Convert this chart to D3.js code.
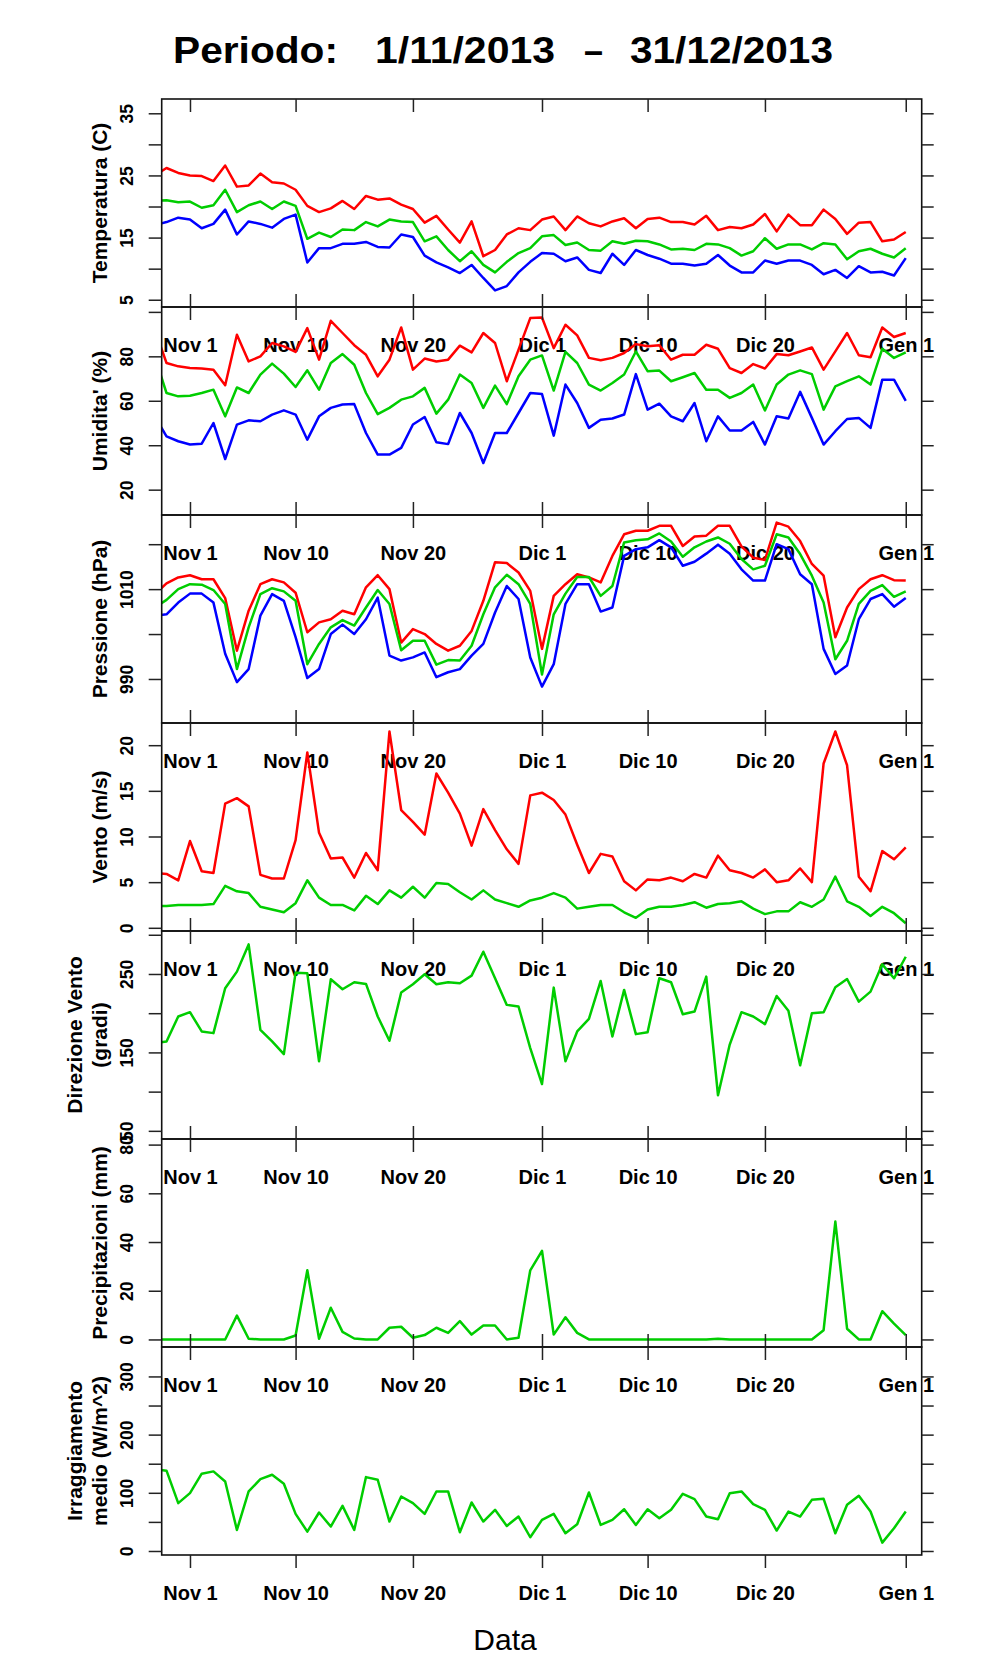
<!DOCTYPE html>
<html>
<head>
<meta charset="utf-8">
<script src="https://cdn.jsdelivr.net/npm/d3@7"></script>
<style>
  body { margin: 0; background: #fff; }
  svg text { font-family: "Liberation Sans", Arial, Helvetica, sans-serif; }
</style>
</head>
<body>
<svg id="chart" width="996" height="1680"></svg>
<script>
// Daily weather summary, seven stacked panels sharing one time axis

// One value per day, 29/10/2013 .. 1/1/2014 (65 days)
const days = d3.utcDay.range(new Date(Date.UTC(2013, 9, 29)), new Date(Date.UTC(2014, 0, 2)));

const tempMax = [25.0, 26.2, 25.4, 25.0, 24.9, 24.1, 26.6, 23.2, 23.4, 25.3, 23.9, 23.7, 22.7,
  20.1, 19.1, 19.7, 20.9, 19.6, 21.7, 21.1, 21.3, 20.3, 19.6,
  17.4, 18.5, 16.3, 14.2, 17.6, 12.0, 13.0, 15.5, 16.5, 16.2,
  17.9, 18.4, 16.2, 18.4, 17.3, 16.8, 17.6, 18.1, 16.5, 18.0,
  18.2, 17.5, 17.5, 17.1, 18.5, 16.2, 16.7, 16.5, 17.1, 18.8,
  16.0, 18.7, 17.0, 17.0, 19.5, 18.0, 15.6, 17.4, 17.5, 14.4, 14.7, 15.9];
const tempMean = [20.9, 21.0, 20.7, 20.8, 19.8, 20.2, 22.7, 19.1, 20.2, 20.8, 19.6, 20.8, 20.1,
  14.8, 15.8, 15.1, 16.3, 16.2, 17.5, 16.8, 17.9, 17.6, 17.5,
  14.4, 15.2, 13.0, 11.2, 12.8, 10.6, 9.4, 11.1, 12.5, 13.3,
  15.2, 15.4, 13.8, 14.2, 13.0, 12.9, 14.4, 14.0, 14.5, 14.4,
  13.9, 13.1, 13.2, 13.0, 14.0, 13.9, 13.3, 12.1, 12.8, 14.9,
  13.2, 13.9, 13.9, 13.1, 14.1, 13.9, 11.5, 12.8, 13.2, 12.4, 11.8, 13.3];
const tempMin = [17.0, 17.5, 18.2, 17.9, 16.5, 17.2, 19.5, 15.5, 17.6, 17.2, 16.6, 18.0, 18.7,
  11.0, 13.3, 13.3, 14.0, 14.0, 14.3, 13.5, 13.4, 15.5, 15.1,
  12.1, 11.0, 10.2, 9.3, 10.6, 8.5, 6.5, 7.2, 9.4, 11.1,
  12.5, 12.4, 11.2, 11.8, 9.8, 9.3, 12.4, 10.6, 13.0, 12.2,
  11.6, 10.8, 10.8, 10.5, 10.8, 12.2, 10.5, 9.4, 9.4, 11.3,
  10.8, 11.3, 11.3, 10.6, 9.1, 9.8, 8.5, 10.4, 9.4, 9.5, 8.9, 11.7];

const humMax = [92, 77, 75.5, 74.8, 74.5, 74, 67, 89.7, 77.7, 80, 86, 84.5, 82,
  92.7, 78.5, 96, 90.5, 85, 80.7, 71, 78.5, 93, 74,
  79, 77.7, 78.5, 84.8, 81.8, 90.5, 86, 68.8, 83, 97.2,
  97.5, 83.7, 94.2, 89.4, 79.3, 78.2, 79.3, 81.5, 85.5, 84.5,
  85, 78.5, 80.7, 80.7, 85.2, 83.4, 74.7, 72.5, 76.5, 74.5,
  81, 80.5, 82.2, 84, 74, 82.2, 90.5, 80.5, 79.6, 93, 88.7, 90.5];
const humMean = [80, 63.5, 62, 62.3, 63.5, 65, 53, 66, 63.5, 71.8, 76.7, 72.2, 66.2,
  73.7, 65, 77, 81, 76.2, 63.5, 54, 56.8, 60.5, 62,
  65.8, 54.2, 60.5, 71.8, 68, 56.8, 66.8, 58.5, 71, 78.5,
  80.4, 64.6, 82, 77, 67.3, 64.6, 68, 71.8, 82.2, 73.3,
  73.6, 68.8, 70.6, 72.5, 65, 65, 61.3, 63.5, 67.3, 55.6,
  67.3, 71.8, 73.7, 72, 56, 66.5, 68.8, 71, 67.3, 83.4, 79.3, 81.8];
const humMin = [53, 44, 41.8, 40.3, 40.7, 50, 33.8, 49.3, 51.2, 50.8, 53.8, 55.7, 53.8,
  42.5, 53, 56.8, 58.3, 58.5, 45.5, 35.8, 35.8, 38.8, 49.3,
  52.7, 41.3, 40.5, 54.5, 45.5, 32, 45.5, 45.5, 54.5, 63.5,
  63, 44.3, 67.3, 59, 47.8, 51.5, 52, 53.8, 72, 56,
  58.7, 53, 50.8, 59, 41.8, 53, 46.6, 46.6, 50.5, 40.3,
  53, 52, 64, 52.3, 40.3, 46.3, 51.8, 52.3, 47.8, 69.5, 69.5, 60];

const presMax = [1008.8, 1011.3, 1012.6, 1013.1, 1012.2, 1012.2, 1008, 996.3, 1005.2, 1011.1, 1012.2, 1011.5, 1009.2,
  1000.4, 1002.6, 1003.3, 1005.2, 1004.4, 1010.4, 1013.1, 1010, 998.1, 1001.1,
  1000.0, 997.8, 996.3, 997.4, 1000.7, 1007.4, 1016, 1015.8, 1013.7, 1009.6,
  996.7, 1008.5, 1011.1, 1013.3, 1012.6, 1011.5, 1017.4, 1022.2, 1023.0, 1023.0,
  1024.1, 1024.1, 1019.6, 1021.7, 1021.9, 1024.1, 1024.1, 1019.5, 1017, 1016.5,
  1024.8, 1023.9, 1020.7, 1015.6, 1013, 999.3, 1005.9, 1010, 1012.2, 1013.1, 1012, 1011.9];
const presMean = [1005.9, 1007.6, 1010, 1011.1, 1011, 1009.8, 1006.7, 992.2, 1001.5, 1008.9, 1010.2, 1009.5, 1007.4,
  993.3, 997.8, 1001.5, 1003.1, 1001.9, 1005.9, 1009.8, 1006.7, 996.4, 998.5,
  998.5, 993.2, 994.2, 994.1, 997.4, 1004.4, 1010.4, 1013.2, 1011.1, 1006.7,
  991, 1004.4, 1009, 1012.7, 1012.7, 1008.5, 1010.7, 1020.4, 1020.9, 1021.1,
  1022.4, 1020.6, 1017.2, 1019.3, 1020.6, 1021.5, 1020.1, 1016.7, 1014.4, 1015.2,
  1022.2, 1021.5, 1017.8, 1013, 1007, 994.4, 998.5, 1006.7, 1009.6, 1010.9, 1008.3, 1009.5];
const presMin = [1004.1, 1004.4, 1007, 1009, 1009, 1007, 995.6, 989.3, 992.2, 1004.1, 1008.9, 1007.4, 999.3,
  990.2, 992.2, 1000, 1002.1, 1000, 1003.3, 1008.1, 995.2, 994.1, 994.8,
  995.9, 990.4, 991.5, 992.2, 995.2, 997.8, 1004.8, 1010.7, 1007.8, 994.8,
  988.3, 993.3, 1006.7, 1011.1, 1011.1, 1005, 1005.9, 1017.4, 1018.9, 1019.3,
  1020.9, 1019.3, 1015.2, 1016.1, 1017.9, 1019.9, 1017.9, 1014.4, 1011.9, 1011.9,
  1020, 1018.9, 1013.3, 1011.1, 996.7, 991.1, 993, 1003.3, 1007.8, 1008.9, 1006.1, 1008];

const windMax = [6.0, 5.9, 5.2, 9.5, 6.2, 6.0, 13.6, 14.2, 13.3, 5.8, 5.4, 5.4, 9.6,
  19.2, 10.4, 7.6, 7.7, 5.5, 8.2, 6.3, 21.5, 12.9, 11.6,
  10.2, 16.9, 14.8, 12.5, 9.0, 13.0, 10.7, 8.6, 7.0, 14.5,
  14.8, 14.0, 12.4, 9.1, 6.0, 8.1, 7.8, 5.1, 4.1, 5.3,
  5.2, 5.5, 5.1, 5.9, 5.5, 7.9, 6.3, 6.0, 5.5, 6.4,
  5.0, 5.2, 6.5, 5.0, 18.0, 21.5, 17.8, 5.6, 4.0, 8.4, 7.5, 8.8];
const windMean = [2.4, 2.4, 2.5, 2.5, 2.5, 2.6, 4.6, 4.0, 3.8, 2.3, 2.0, 1.7, 2.7,
  5.2, 3.3, 2.5, 2.5, 1.9, 3.5, 2.6, 4.1, 3.3, 4.5,
  3.3, 4.9, 4.8, 3.9, 3.1, 4.1, 3.1, 2.7, 2.3, 3.0,
  3.3, 3.8, 3.3, 2.1, 2.3, 2.5, 2.5, 1.7, 1.1, 2.0,
  2.3, 2.3, 2.5, 2.8, 2.2, 2.6, 2.7, 2.9, 2.1, 1.5,
  1.8, 1.8, 2.8, 2.3, 3.1, 5.6, 2.9, 2.3, 1.3, 2.3, 1.6, 0.5];

const windDir = [162, 164, 195.8, 201.3, 176.7, 174.6, 231.8, 253, 287.7, 178.8, 164, 147.9, 251.7,
  250.8, 138.6, 243.2, 230.5, 239.4, 237.3, 195.8, 164.8, 226.3, 236.9,
  249.6, 236.9, 239.4, 238.1, 247.9, 278.4, 244.5, 210.6, 208.5, 155.5,
  109.7, 232.6, 138.6, 176.7, 192.8, 241.1, 170.3, 229.7, 173.3, 175.8,
  244.5, 239.4, 198.7, 202.1, 246.6, 95.3, 160, 201.3, 195.8, 186,
  222, 203, 133.5, 200, 201.3, 233, 243.6, 214.8, 227.5, 262.3, 244.5, 272];

const rain = [0, 0, 0, 0, 0, 0, 0, 9.8, 0.3, 0, 0, 0, 1.6,
  28.4, 0.3, 13.0, 3.1, 0.4, 0, 0, 4.8, 5.2, 0.7,
  1.8, 4.8, 2.7, 7.5, 2.0, 5.7, 5.7, 0, 0.7, 28.4,
  36.4, 2.0, 9.1, 2.7, 0, 0, 0, 0, 0, 0,
  0, 0, 0, 0, 0, 0.3, 0, 0, 0, 0,
  0, 0, 0, 0, 3.8, 48.4, 4.4, 0, 0, 11.6, 6.5, 1.8];

const radiation = [140.8, 138, 82.2, 99.4, 132.8, 136.8, 119.5, 36.2, 102.3, 123.6, 131, 115.5, 63.8,
  33.3, 66.1, 42, 77.6, 36.2, 127, 122.4, 50.6, 93.7, 82.2,
  63.8, 102.3, 102.3, 32.2, 83.3, 50.6, 70.7, 43.1, 59.2, 23.6,
  53.4, 63.8, 30.5, 46, 100.6, 44.8, 53.4, 71.8, 44.8, 71.8,
  56.3, 70.7, 98.3, 89.1, 59.2, 54.6, 99.4, 102.3, 80.5, 70.7,
  35.1, 67.8, 59.2, 87.9, 89.7, 30.5, 79.3, 94.8, 67.8, 14.4, 39.1, 67.8];

// Axis ticks and labels
const xTickDates = ["2013-11-01", "2013-11-10", "2013-11-20", "2013-12-01", "2013-12-10", "2013-12-20", "2014-01-01"];
const xTickLabels = ["Nov 1", "Nov 10", "Nov 20", "Dic 1", "Dic 10", "Dic 20", "Gen 1"];

const tempTicks = [5, 10, 15, 20, 25, 30, 35], tempLabels = [5, 15, 25, 35];
const humTicks = [20, 40, 60, 80, 100], humLabels = [20, 40, 60, 80];
const presTicks = [990, 1000, 1010, 1020], presLabels = [990, 1010];
const windTicks = [0, 5, 10, 15, 20], windLabels = [0, 5, 10, 15, 20];
const dirTicks = [50, 100, 150, 200, 250, 300], dirLabels = [50, 150, 250];
const rainTicks = [0, 20, 40, 60, 80], rainLabels = [0, 20, 40, 60, 80];
const radTicks = [0, 50, 100, 150, 200, 250, 300], radLabels = [0, 100, 200, 300];

const RED = "#ff0000", GREEN = "#00cd00", BLUE = "#0000ff";

const panels = [
  { title: ["Temperatura (C)"], domain: [3.83, 37.3], ticks: tempTicks, labels: tempLabels,
    series: [[tempMax, RED], [tempMean, GREEN], [tempMin, BLUE]] },
  { title: ["Umidita' (%)"], domain: [8.6, 102.2], ticks: humTicks, labels: humLabels,
    series: [[humMax, RED], [humMean, GREEN], [humMin, BLUE]] },
  { title: ["Pressione (hPa)"], domain: [980.2, 1026.5], ticks: presTicks, labels: presLabels,
    series: [[presMax, RED], [presMean, GREEN], [presMin, BLUE]] },
  { title: ["Vento (m/s)"], domain: [-0.35, 22.43], ticks: windTicks, labels: windLabels,
    series: [[windMax, RED], [windMean, GREEN]] },
  { title: ["Direzione Vento", "(gradi)"], domain: [39.6, 304.8], ticks: dirTicks, labels: dirLabels,
    series: [[windDir, GREEN]] },
  { title: ["Precipitazioni (mm)"], domain: [-3.1, 82.3], ticks: rainTicks, labels: rainLabels,
    series: [[rain, GREEN]] },
  { title: ["Irraggiamento", "medio (W/m^2)"], domain: [-6.9, 350.6], ticks: radTicks, labels: radLabels,
    series: [[radiation, GREEN]] }];

// Layout
const svg = d3.select("#chart");
const pL = 161.7, pR = 921.7, pTop = 99, panelH = 208;
const font = "'Liberation Sans', Arial, Helvetica, sans-serif";

const nov1 = Date.UTC(2013, 10, 1), dayMs = 864e5;
const xScale = d3.scaleUtc().
domain([new Date(nov1 - 2.41 * dayMs), new Date(nov1 + 62.36 * dayMs)]).
range([pL, pR]);
const xTicks = xTickDates.map(s => new Date(s + "T00:00:00Z"));

// Title
const titleParts = [["Periodo:", 173, 165], ["1/11/2013", 375, 180], ["\u2013", 584, 19], ["31/12/2013", 630, 203]];
titleParts.forEach(([txt, x, len]) => {
  svg.append("text").
  attr("x", x).
  attr("y", 63).
  attr("font-size", 36).
  attr("font-weight", "bold").
  attr("textLength", len).
  attr("lengthAdjust", "spacingAndGlyphs").
  text(txt);
});

function styleTicks(g) {
  g.select(".domain").remove();
  g.selectAll(".tick line").attr("stroke", "#222").attr("stroke-width", 1.5);
}

panels.forEach((p, i) => {
  const top = pTop + i * panelH,bottom = top + panelH;
  const yScale = d3.scaleLinear().domain(p.domain).range([bottom, top]);

  svg.append("clipPath").
  attr("id", "clip" + i).
  append("rect").
  attr("x", pL).
  attr("y", top).
  attr("width", pR - pL).
  attr("height", panelH);

  const line = d3.line().
  x(d => xScale(d.date)).
  y(d => yScale(d.v));

  p.series.forEach(([values, color]) => {
    svg.append("path").
    datum(days.map((d, k) => ({ date: d, v: values[k] }))).
    attr("clip-path", `url(#clip${i})`).
    attr("fill", "none").
    attr("stroke", color).
    attr("stroke-width", 2.5).
    attr("stroke-linejoin", "round").
    attr("d", line);
  });

  // Box
  svg.append("rect").
  attr("x", pL).
  attr("y", top).
  attr("width", pR - pL).
  attr("height", panelH).
  attr("fill", "none").
  attr("stroke", "#111").
  attr("stroke-width", 1.6);

  // Left axis, rotated labels
  const yLeft = svg.append("g").
  attr("transform", `translate(${pL} 0)`).
  call(d3.axisLeft(yScale).
  tickValues(p.ticks).
  tickSize(13).
  tickFormat(v => p.labels.includes(v) ? v : "")).
  call(styleTicks);

  yLeft.selectAll(".tick text").
  attr("x", null).
  attr("dy", null).
  attr("transform", `translate(${133 - pL} 0) rotate(-90)`).
  attr("text-anchor", "middle").
  attr("fill", "#000").
  attr("font-family", font).
  attr("font-size", 17.5).
  attr("font-weight", "bold");

  // Right axis, ticks only
  svg.append("g").
  attr("transform", `translate(${pR} 0)`).
  call(d3.axisRight(yScale).
  tickValues(p.ticks).
  tickSize(12).
  tickFormat("")).
  call(styleTicks);

  // Top ticks pointing inward
  svg.append("g").
  attr("transform", `translate(0 ${top})`).
  call(d3.axisTop(xScale).
  tickValues(xTicks).
  tickSize(-13).
  tickFormat("")).
  call(styleTicks);

  // Bottom ticks: inward for inner panels, outward for the last one
  const last = i === panels.length - 1;
  const xBottom = svg.append("g").
  attr("transform", `translate(0 ${bottom})`).
  call(d3.axisBottom(xScale).
  tickValues(xTicks).
  tickSize(last ? 13 : -13).
  tickFormat((d, k) => xTickLabels[k])).
  call(styleTicks);

  xBottom.selectAll(".tick text").
  attr("y", 44.5).
  attr("dy", null).
  attr("fill", "#000").
  attr("font-family", font).
  attr("font-size", 20).
  attr("font-weight", "bold");

  // Y title, one or two lines
  const midY = (top + bottom) / 2;
  p.title.forEach((t, k) => {
    const baseX = 107 - (p.title.length - 1 - k) * 25;
    svg.append("text").
    attr("transform", `translate(${baseX} ${midY}) rotate(-90)`).
    attr("text-anchor", "middle").
    attr("font-size", 21).
    attr("font-weight", "bold").
    text(t);
  });
});

// X title
svg.append("text").
attr("x", 505).
attr("y", 1650).
attr("text-anchor", "middle").
attr("font-size", 30).
text("Data");
</script>
</body>
</html>
